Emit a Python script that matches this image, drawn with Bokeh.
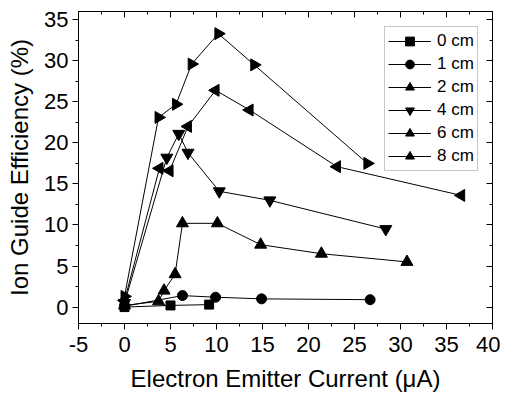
import numpy as np
from bokeh.plotting import figure
from bokeh.models import (LinearAxis, SingleIntervalTicker, Range1d, Legend, LegendItem,
                          CustomLabelingPolicy)
from bokeh.embed import file_html
from bokeh.resources import INLINE

# data (x: electron emitter current in uA, y: ion guide efficiency in %)
x0 = [0, 5.0, 9.2]
y0 = [0.0, 0.2, 0.3]
x1 = [0, 6.3, 9.9, 14.9, 26.7]
y1 = [0.1, 1.4, 1.2, 1.0, 0.9]
x2 = [0, 3.7, 4.3, 5.5, 6.3, 10.1, 14.8, 21.4, 30.7]
y2 = [0.2, 0.7, 2.0, 4.0, 10.2, 10.2, 7.6, 6.5, 5.5]
x4 = [0, 4.6, 5.9, 6.9, 10.3, 15.8, 28.4]
y4 = [0.5, 18.2, 21.1, 18.8, 14.1, 13.0, 9.5]
x6 = [0, 3.8, 4.9, 6.9, 9.9, 13.6, 23.1, 36.6]
y6 = [0.8, 16.9, 16.6, 22.0, 26.4, 24.0, 17.1, 13.6]
x8 = [0, 3.7, 5.6, 7.3, 10.2, 14.1, 26.4]
y8 = [1.3, 23.1, 24.7, 29.6, 33.3, 29.5, 17.5]
labels = ["0 cm", "1 cm", "2 cm", "4 cm", "6 cm", "8 cm"]

FONT = "Liberation Sans"

p = figure(width=500, height=394, output_backend="svg", toolbar_location=None,
           x_range=Range1d(-5, 40), y_range=Range1d(-2, 36),
           min_border_left=78, min_border_right=8, min_border_top=11, min_border_bottom=70)
p.grid.visible = False
p.outline_line_color = "black"
p.background_fill_color = "white"

p.xaxis.ticker = SingleIntervalTicker(interval=5, num_minor_ticks=2)
p.yaxis.ticker = SingleIntervalTicker(interval=5, num_minor_ticks=2)

for ax in (p.xaxis[0], p.yaxis[0]):
    ax.major_label_text_font = FONT
    ax.major_label_text_font_size = "22px"
    ax.major_label_text_color = "black"
    ax.axis_label_text_font = FONT
    ax.axis_label_text_font_size = "24px"
    ax.axis_label_text_font_style = "normal"
    ax.axis_label_text_color = "black"
    ax.major_tick_out = 6
    ax.major_tick_in = 0
    ax.minor_tick_out = 3
    ax.minor_tick_in = 0
    ax.axis_line_color = "black"
    ax.major_tick_line_color = "black"
    ax.minor_tick_line_color = "black"
p.xaxis.major_label_standoff = 7
p.yaxis.major_label_standoff = 4
p.xaxis.axis_label_standoff = 10
p.yaxis.axis_label_standoff = 8
p.xaxis.major_label_overrides = {-5: "-5"}
p.xaxis.axis_label = "Electron Emitter Current (\u03bcA)"
p.yaxis.axis_label = "Ion Guide Efficiency (%)"

hide_all = "const a = [...indices]; for (const i of a) indices.unset(i); return indices"
for loc in ("above", "right"):
    ax = LinearAxis(ticker=SingleIntervalTicker(interval=5, num_minor_ticks=2),
                    major_label_policy=CustomLabelingPolicy(code=hide_all),
                    major_label_text_font_size="1px",
                    major_tick_in=6, major_tick_out=0,
                    minor_tick_in=3, minor_tick_out=0, major_label_standoff=0,
                    axis_line_color="black", major_tick_line_color="black",
                    minor_tick_line_color="black")
    p.add_layout(ax, loc)

series = [
    (x0, y0, "square", 9, 0),
    (x1, y1, "circle", 10, 0),
    (x2, y2, "triangle", 12, 0),
    (x4, y4, "inverted_triangle", 12, 0),
    (x6, y6, "triangle", 12, np.pi / 2),
    (x8, y8, "triangle", 12, -np.pi / 2),
]
items = []
for (xs, ys, mk, sz, ang), lab in zip(series, labels):
    l = p.line(xs, ys, line_color="black", line_width=1)
    s = p.scatter(xs, ys, marker=mk, size=sz, angle=ang, fill_color="black", line_color="black")
    items.append(LegendItem(label=lab, renderers=[l, s]))

leg = Legend(items=items, location=(306, 152))
leg.label_text_font = FONT
leg.label_text_font_size = "17px"
leg.label_text_color = "black"
leg.glyph_width = 43
leg.glyph_height = 22
leg.label_height = 22
leg.spacing = 1
leg.padding = 3
leg.margin = 0
leg.label_standoff = 6
leg.border_line_color = "#909090"
leg.background_fill_alpha = 1
p.add_layout(leg, "center")

open("out.html", "w").write(file_html(p, INLINE))
